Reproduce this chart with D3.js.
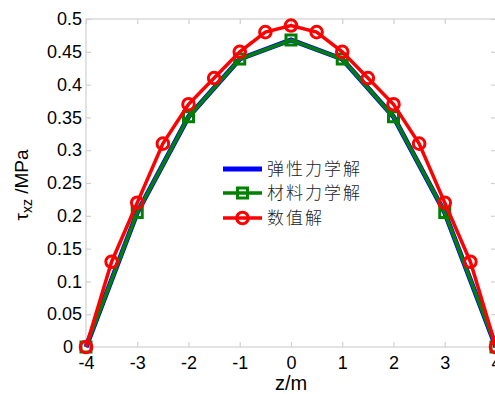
<!DOCTYPE html>
<html><head><meta charset="utf-8">
<script src="https://cdn.jsdelivr.net/npm/d3@7"></script>
<style>body{margin:0;background:#fff;overflow:hidden}svg{display:block}</style>
</head><body>
<script>
const xTicks = [-4,-3,-2,-1,0,1,2,3,4];
const yTicks = [0,0.05,0.1,0.15,0.2,0.25,0.3,0.35,0.4,0.45,0.5];
const zInt = [-4,-3,-2,-1,0,1,2,3,4];
const elastic = [0,0.205,0.351,0.439,0.468,0.439,0.351,0.205,0];
const material = [0,0.205,0.351,0.439,0.468,0.439,0.351,0.205,0];
const zNum = [-4,-3.5,-3,-2.5,-2,-1.5,-1,-0.5,0,0.5,1,1.5,2,2.5,3,3.5,4];
const numeric = [0,0.13,0.22,0.31,0.37,0.41,0.45,0.48,0.49,0.48,0.45,0.41,0.37,0.31,0.22,0.13,0];
const legendLabels = ["弹性力学解","材料力学解","数值解"];

const W=495,H=394;
const m={l:86,t:19,r:496,b:347};
const svg=d3.select("body").append("svg").attr("width",W).attr("height",H);
const x=d3.scaleLinear().domain([-4,4]).range([m.l,m.r]);
const y=d3.scaleLinear().domain([0,0.5]).range([m.b,m.t]);
const gray="#d0d0d0";
const font="Liberation Sans, Arial, sans-serif";

// box
svg.append("rect").attr("x",m.l).attr("y",m.t).attr("width",m.r-m.l).attr("height",m.b-m.t)
  .attr("fill","none").attr("stroke",gray).attr("stroke-width",1.2);

const ax=svg.append("g").attr("transform",`translate(0,${m.b})`)
  .call(d3.axisBottom(x).tickValues(xTicks).tickSize(-5).tickPadding(9).tickFormat(d=>String(d)));
const ay=svg.append("g").attr("transform",`translate(${m.l},0)`)
  .call(d3.axisLeft(y).tickValues(yTicks).tickSize(-5).tickPadding(4).tickFormat(d=>String(+d.toFixed(2))));
const axT=svg.append("g").attr("transform",`translate(0,${m.t})`)
  .call(d3.axisTop(x).tickValues(xTicks).tickSize(-5).tickFormat(""));
const ayR=svg.append("g").attr("transform",`translate(${m.r},0)`)
  .call(d3.axisRight(y).tickValues(yTicks).tickSize(-5).tickFormat(""));
[ax,ay,axT,ayR].forEach(g=>{
  g.select(".domain").remove();
  g.selectAll(".tick line").attr("stroke",gray).attr("stroke-width",1.2);
  g.selectAll("text").attr("fill","#000").style("font-family",font).style("font-size","18px");
});
ay.selectAll(".tick text").filter(d=>d===0).attr("dx","-9");

const line=d3.line().x(d=>x(d[0])).y(d=>y(d[1]));
const blueData=zInt.map((z,i)=>[z,elastic[i]]);
const greenData=zInt.map((z,i)=>[z,material[i]]);
const redData=zNum.map((z,i)=>[z,numeric[i]]);

svg.append("path").datum(blueData).attr("d",line).attr("fill","none").attr("stroke","#0000ff").attr("stroke-width",5);
svg.append("path").datum(greenData).attr("d",line).attr("fill","none").attr("stroke","#008000").attr("stroke-width",3.5);
svg.append("g").selectAll("rect").data(greenData).join("rect")
  .attr("x",d=>x(d[0])-5).attr("y",d=>y(d[1])-5).attr("width",10).attr("height",10)
  .attr("fill","none").attr("stroke","#008000").attr("stroke-width",3);
svg.append("path").datum(redData).attr("d",line).attr("fill","none").attr("stroke","#ff0000").attr("stroke-width",3.5);
svg.append("g").selectAll("circle").data(redData).join("circle")
  .attr("cx",d=>x(d[0])).attr("cy",d=>y(d[1])).attr("r",5.8)
  .attr("fill","none").attr("stroke","#ff0000").attr("stroke-width",3);

// legend
const lg=svg.append("g");
const rows=[169,193,218];
const cols=["#0000ff","#008000","#ff0000"];
rows.forEach((ry,i)=>{
  lg.append("line").attr("x1",223).attr("x2",262).attr("y1",ry).attr("y2",ry)
    .attr("stroke",cols[i]).attr("stroke-width",i===0?5:3.5);
  if(i===1) lg.append("rect").attr("x",237.5).attr("y",ry-5).attr("width",10).attr("height",10)
    .attr("fill","none").attr("stroke",cols[i]).attr("stroke-width",3);
  if(i===2) lg.append("circle").attr("cx",242.5).attr("cy",ry).attr("r",5.8)
    .attr("fill","none").attr("stroke",cols[i]).attr("stroke-width",3);
  lg.append("text").attr("x",267).attr("y",ry+6).text(legendLabels[i])
    .style("font-family","Noto Sans CJK SC").style("font-size","17px").style("letter-spacing","2px")
    .style("font-weight","300").attr("fill","#222");
});

// axis labels
svg.append("text").attr("x",291).attr("y",390).attr("text-anchor","middle")
  .style("font-family",font).style("font-size","20px").text("z/m");
const yl=svg.append("text").attr("transform","translate(28,185) rotate(-90)").attr("text-anchor","middle")
  .style("font-family",font).style("font-size","19px");
yl.append("tspan").text("τ");
yl.append("tspan").attr("baseline-shift","-30%").style("font-size","14px").text("xz");
yl.append("tspan").text(" /MPa");
</script>
</body></html>
